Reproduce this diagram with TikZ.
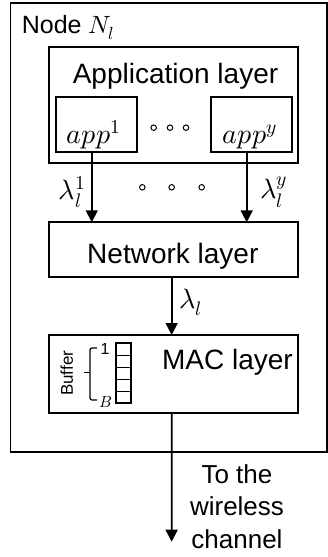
\documentclass[tikz,border=0pt]{standalone}
\usepackage{fontspec}
\usepackage{unicode-math}
\setmainfont{Liberation Sans}
\usetikzlibrary{arrows.meta,calc}
\begin{document}
\begin{tikzpicture}[x=1pt,y=-1pt,
  box/.style={draw,line width=1.7pt,inner sep=0pt,outer sep=0pt},
  arr/.style={line width=1.7pt,-{Triangle[width=12pt,length=12pt]}},
  big/.style={inner sep=0pt,font=\fontsize{28}{33}\selectfont},
  mathlbl/.style={inner sep=0pt,font=\fontsize{28}{33}\selectfont},
  mid/.style={inner sep=0pt,font=\fontsize{26}{32.5}\selectfont},
  dot/.style={draw,line width=1pt,circle,minimum size=5.5pt,inner sep=0pt},
  small/.style={inner sep=0pt,font=\fontsize{16}{18}\selectfont}]
\useasboundingbox (0,0) rectangle (328,557);
% boxes
\node[box,minimum width=316.5pt,minimum height=448.7pt] (outer) at (168.75,227.35) {};
\node[box,minimum width=248.7pt,minimum height=116pt] (applayer) at (173.35,104.7) {};
\node[box,minimum width=80.7pt,minimum height=55pt] (app1) at (96.35,124.5) {};
\node[box,minimum width=81pt,minimum height=55pt] (appy) at (251.2,124.5) {};
\node[box,minimum width=248.7pt,minimum height=54.4pt] (net) at (173.35,249.5) {};
\node[box,minimum width=248.7pt,minimum height=77.7pt] (mac) at (173.35,373.85) {};
% texts
\node[inner sep=0pt,anchor=base west,font=\fontsize{25}{30}\selectfont] (nodelbl) at (21.7,33.3) {Node $N_l$};
\node[big,anchor=base] (applbl) at (175.5,83.3) {Application layer};
\node[mathlbl,anchor=base] (app1lbl) at (94,143.3) {$app^1$};
\node[mathlbl,anchor=base] (appylbl) at (250,143.3) {$app^y$};
\node[big,anchor=base] (netlbl) at (172.8,263.3) {Network layer};
\node[big,anchor=base] (maclbl) at (227.5,369.3) {MAC layer};
\node[mathlbl] (l1) at (72,192) {$\lambda_l^1$};
\node[mathlbl] (ly) at (274,192) {$\lambda_l^y$};
\node[mathlbl] (l) at (191,302) {$\lambda_l$};
\node[mid,align=center] (chan) at (237,506.3) {To the\\wireless\\channel};
% dots
\node[dot] (d1) at (153.7,127.7) {};
\node[dot] (d2) at (170,127.7) {};
\node[dot] (d3) at (186,127.7) {};
\node[dot] (e1) at (142.3,187.3) {};
\node[dot] (e2) at (171.7,187.3) {};
\node[dot] (e3) at (201.7,187.3) {};
% buffer
\node[inner sep=0pt,rotate=90,font=\fontsize{17}{20}\selectfont] (buflbl) at (66.7,373.3) {Buffer};
\node[box,minimum width=15pt,minimum height=60pt] (buf) at (123.5,373.3) {};
\foreach \i in {1,...,4}
  \draw[line width=1.5pt] ([yshift=-12*\i pt]buf.north west) -- ([yshift=-12*\i pt]buf.north east);
\draw[line width=1.2pt,rounded corners=2pt] (97,348) -- (90,348) -- (90,400) -- (97,400);
\draw[line width=1.2pt] (90,372.7) -- (84,372.7);
\node[small] (one) at (105,349) {1};
\node[small] (bb) at (106,402) {$B$};
% arrows
\draw[arr] ([xshift=-4.6pt]app1.south) -- ([xshift=-4.6pt]app1.south |- net.north);
\draw[arr] ([xshift=-4.5pt]appy.south) -- ([xshift=-4.5pt]appy.south |- net.north);
\draw[arr] ([xshift=-1.7pt]net.south) -- ([xshift=-1.7pt]net.south |- mac.north);
\coordinate (end) at (171.65,541.7);
\draw[arr] ([xshift=-1.7pt]mac.south) -- (end);
\end{tikzpicture}
\end{document}
